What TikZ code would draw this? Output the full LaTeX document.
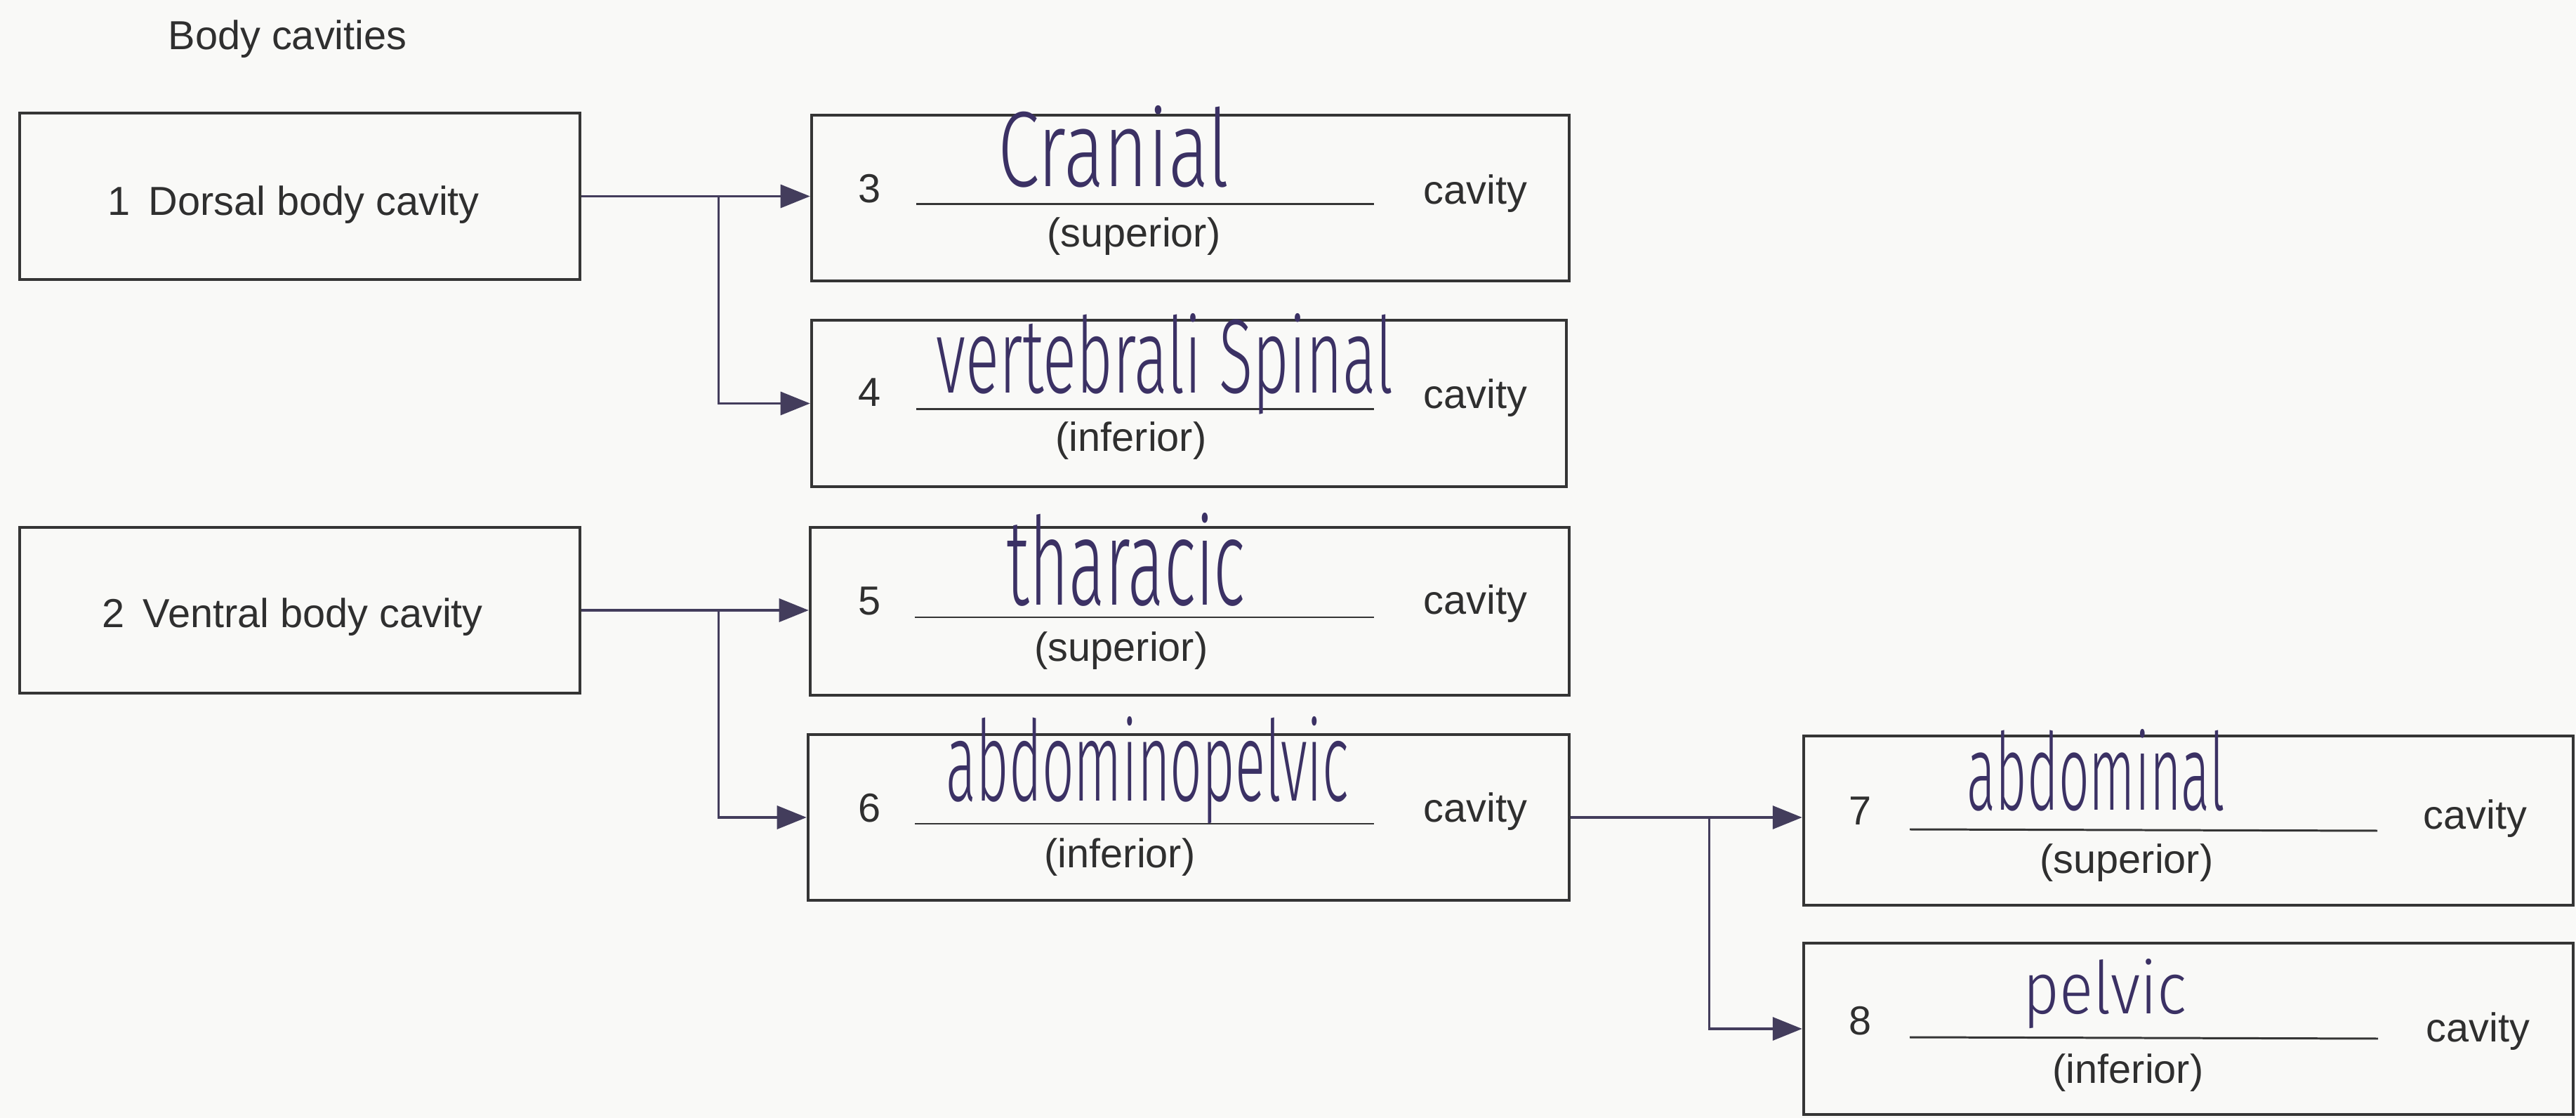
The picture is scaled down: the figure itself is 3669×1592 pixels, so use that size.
\documentclass[tikz,border=0pt]{standalone}
\usepackage{fontspec}
\setmainfont{Liberation Sans}
\newfontfamily\handfont{Fira Sans Light}
\usetikzlibrary{arrows.meta,calc}
\definecolor{ink}{HTML}{3B3164}
\definecolor{txt}{HTML}{2F2F2F}
\definecolor{frame}{HTML}{353535}
\definecolor{arr}{HTML}{433D5C}
\definecolor{paper}{HTML}{F9F9F7}
\newcommand{\handw}[3]{\resizebox{#1}{#2}{\handfont #3}}
\begin{document}
\begin{tikzpicture}[x=0.01cm,y=-0.01cm,
  box/.style={draw=frame,line width=1.1pt,inner sep=0pt},
  lbl/.style={text=txt,font=\fontsize{16.4}{19}\selectfont,inner sep=0pt,anchor=base west},
  sub/.style={text=txt,font=\fontsize{16.4}{19}\selectfont,inner sep=0pt,anchor=base},
  hand/.style={text=ink,inner sep=0pt,anchor=base west},
  blank/.style={draw=frame,line width=0.85pt},
  conn/.style={draw=arr,line width=0.95pt,-{Triangle[length=0.42cm,width=0.33cm,fill=arr]}}]
\useasboundingbox (0,0) rectangle (3669,1592);
\fill[paper] (0,0) rectangle (3669,1592);

% title
\node[lbl] (title) at (239,71) {Body cavities};

% boxes
\node[box,minimum width=7.98cm,minimum height=2.37cm] (b1) at (427,279.5) {};
\node[box,minimum width=7.98cm,minimum height=2.36cm] (b2) at (427,869) {};
\node[box,minimum width=10.79cm,minimum height=2.36cm] (b3) at (1695.5,282) {};
\node[box,minimum width=10.75cm,minimum height=2.37cm] (b4) at (1693.5,574.5) {};
\node[box,minimum width=10.81cm,minimum height=2.39cm] (b5) at (1694.5,870.5) {};
\node[box,minimum width=10.84cm,minimum height=2.36cm] (b6) at (1693,1164) {};
\node[box,minimum width=10.96cm,minimum height=2.41cm] (b7) at (3117,1168.5) {};
\node[box,minimum width=10.96cm,minimum height=2.44cm] (b8) at (3117,1465) {};

% main labels
\node[lbl] (t1) at (153,307) {1\hspace{0.45em}Dorsal body cavity};
\node[lbl] (t2) at (145,894) {2\hspace{0.45em}Ventral body cavity};

% numbers
\node[lbl] (n3) at (1222,289) {3};
\node[lbl] (n4) at (1222,579) {4};
\node[lbl] (n5) at (1222,876) {5};
\node[lbl] (n6) at (1222,1170) {6};
\node[lbl] (n7) at (2633,1174) {7};
\node[lbl] (n8) at (2633,1473) {8};

% blank lines
\draw[blank] (1305,291) -- (1957,291);
\draw[blank] (1305,583) -- (1957,583);
\draw[blank] (1303,879) -- (1957,879);
\draw[blank] (1303,1173) -- (1957,1173);
\draw[blank] (2720,1181) -- (3386,1183);
\draw[blank] (2720,1477) -- (3387,1479);

% "cavity"
\node[lbl] (c3) at (2027,291) {cavity};
\node[lbl] (c4) at (2027,582) {cavity};
\node[lbl] (c5) at (2027,875) {cavity};
\node[lbl] (c6) at (2027,1170) {cavity};
\node[lbl] (c7) at (3451,1181) {cavity};
\node[lbl] (c8) at (3455,1483) {cavity};

% sub labels
\node[sub] (s3) at (1615,352) {(superior)};
\node[sub] (s4) at (1611,643) {(inferior)};
\node[sub] (s5) at (1597,942) {(superior)};
\node[sub] (s6) at (1595,1235) {(inferior)};
\node[sub] (s7) at (3029,1243) {(superior)};
\node[sub] (s8) at (3031,1542) {(inferior)};

% handwriting
\node[hand] (h3) at (1421,266) {\handw{3.29cm}{1.15cm}{Cranial}};
\node[hand] (h4) at (1333,560) {\handw{6.51cm}{1.13cm}{vertebrali Spinal}};
\node[hand] (h5) at (1433,862) {\handw{3.40cm}{1.31cm}{tharacic}};
\node[hand] (h6) at (1347,1140) {\handw{5.73cm}{1.20cm}{abdominopelvic}};
\node[hand] (h7) at (2801,1153) {\handw{3.67cm}{1.15cm}{abdominal}};
\node[hand] (h8) at (2881,1443) {\handw{2.33cm}{0.78cm}{pelvic}};

% connectors
\coordinate (j1) at ($(b1.east)+(195,0)$);
\coordinate (j2) at ($(b2.east)+(195,0)$);
\coordinate (j3) at ($(b6.east)+(197,0)$);
\draw[conn] (b1.east) -- (b1.east -| b3.west);
\draw[conn] (j1) |- (b4.west);
\draw[conn] (b2.east) -- (b2.east -| b5.west);
\draw[conn] (j2) |- (b6.west);
\draw[conn] (b6.east) -- (b6.east -| b7.west);
\draw[conn] (j3) |- (b8.west);
\end{tikzpicture}
\end{document}
